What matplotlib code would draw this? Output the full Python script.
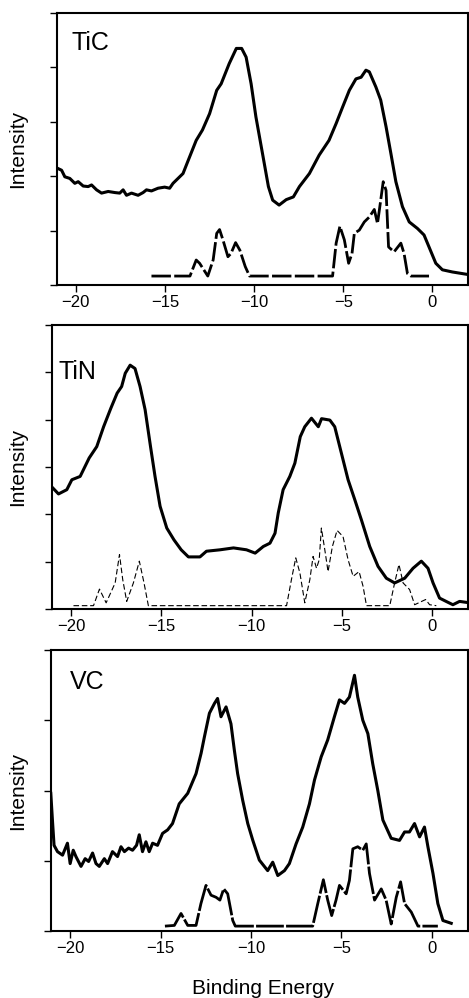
import numpy as np
import matplotlib
matplotlib.use('Agg')
import matplotlib.pyplot as plt

plt.rcParams['font.family'] = ['Liberation Sans', 'DejaVu Sans']

# TiC: measured spectrum (solid) and calculated DOS (dashed)
tic_e = [-20.99, -20.80, -20.62, -20.34, -20.06, -19.87, -19.59, -19.31, -19.12, -18.84, -18.56,
         -18.19, -17.81, -17.54, -17.35, -17.16, -16.88, -16.51, -16.23, -16.04, -15.76, -15.39,
         -15.02, -14.74, -14.55, -14.27, -13.99,
         -13.7, -13.25, -12.9, -12.5, -12.1, -11.85, -11.4, -11.0, -10.7, -10.45, -10.17, -9.9,
         -9.5, -9.2, -8.96, -8.6, -8.2, -7.8, -7.46, -6.9, -6.35, -5.8, -5.4, -5.04, -4.66,
         -4.29, -4.0, -3.73, -3.54, -3.17, -2.9, -2.6, -2.33, -2.05, -1.68, -1.3, -0.84, -0.47,
         -0.19, 0.19, 0.56, 1.12, 1.87]
tic_i = [2.14, 2.11, 1.99, 1.96, 1.87, 1.90, 1.82, 1.81, 1.84, 1.75, 1.69,
         1.72, 1.70, 1.69, 1.75, 1.65, 1.69, 1.65, 1.70, 1.75, 1.73, 1.78,
         1.80, 1.78, 1.87, 1.96, 2.05,
         2.29, 2.66, 2.85, 3.15, 3.58, 3.70, 4.07, 4.35, 4.35, 4.19, 3.70, 3.09,
         2.36, 1.81, 1.56, 1.47, 1.57, 1.62, 1.81, 2.05, 2.39, 2.66, 2.97, 3.27, 3.58,
         3.79, 3.82, 3.95, 3.92, 3.64, 3.40, 2.91, 2.42, 1.90, 1.44, 1.16, 1.04, 0.92,
         0.70, 0.40, 0.28, 0.24, 0.20]
tic_dos_e = [-15.76, -13.6, -13.25, -13.06, -12.6, -12.3, -12.1, -11.94, -11.75, -11.47, -11.3,
             -11.04, -10.8, -10.5, -10.26, -5.6, -5.4, -5.19, -4.94, -4.7, -4.51, -4.38, -4.1,
             -3.82, -3.54, -3.26, -3.08, -2.9, -2.76, -2.6, -2.46, -2.15, -1.77, -1.59, -1.4,
             -1.21, -0.19]
tic_dos = [0.165, 0.165, 0.46, 0.40, 0.165, 0.46, 0.95, 1.02, 0.83, 0.52, 0.58,
           0.78, 0.64, 0.34, 0.165, 0.165, 0.77, 1.08, 0.83, 0.40, 0.58, 0.95, 1.01,
           1.16, 1.25, 1.39, 1.13, 1.56, 1.90, 1.74, 0.70, 0.61, 0.77, 0.58, 0.21,
           0.165, 0.165]

# TiN
tin_e = [-21.0, -20.7, -20.24, -19.96, -19.5, -19.0, -18.58, -18.2, -17.8, -17.45, -17.2, -17.0,
         -16.73, -16.46, -16.18, -15.9, -15.6, -15.35, -15.07, -14.7, -14.3, -13.9, -13.5,
         -12.86, -12.5, -11.75, -11.0, -10.28, -9.8, -9.35, -8.98, -8.7, -8.52, -8.25, -7.88,
         -7.6, -7.3, -7.05, -6.68, -6.3, -6.12, -5.66, -5.39, -5.02, -4.65, -4.28, -3.91,
         -3.45, -2.99, -2.53, -2.07, -1.51, -1.05, -0.59, -0.22, 0.06, 0.42, 0.89, 1.16, 1.53, 1.9]
tin_i = [2.55, 2.43, 2.52, 2.73, 2.80, 3.19, 3.43, 3.85, 4.24, 4.56, 4.70, 4.98,
         5.15, 5.08, 4.70, 4.21, 3.43, 2.80, 2.17, 1.71, 1.46, 1.25, 1.10,
         1.10, 1.22, 1.25, 1.29, 1.25, 1.18, 1.32, 1.39, 1.60, 2.03, 2.52, 2.80,
         3.08, 3.64, 3.85, 4.03, 3.85, 4.02, 3.99, 3.85, 3.29, 2.73, 2.31, 1.88,
         1.32, 0.90, 0.65, 0.55, 0.65, 0.86, 1.01, 0.86, 0.55, 0.23, 0.14, 0.09, 0.16, 0.14]
tin_dos_e = [-19.87, -18.76, -18.43, -18.06, -17.56, -17.32, -17.14, -16.92, -16.55, -16.22,
             -15.96, -15.72, -8.06, -7.79, -7.55, -7.32, -7.05, -6.77, -6.59, -6.4, -6.25,
             -6.13, -5.94, -5.76, -5.52, -5.26, -4.93, -4.65, -4.37, -4.04, -3.82, -3.63,
             -2.34, -2.07, -1.83, -1.6, -1.24, -0.96, -0.35, -0.13, 0.24]
tin_dos = [0.07, 0.07, 0.42, 0.13, 0.55, 1.15, 0.62, 0.16, 0.55, 1.01,
           0.55, 0.07, 0.07, 0.62, 1.08, 0.76, 0.13, 0.62, 1.11, 0.86, 1.04,
           1.71, 1.25, 0.79, 1.32, 1.66, 1.53, 1.04, 0.69, 0.79, 0.48, 0.07,
           0.07, 0.55, 0.94, 0.55, 0.41, 0.09, 0.20, 0.09, 0.07]

# VC
vc_e = [-21.07, -20.98, -20.89, -20.70, -20.42, -20.15, -20.0, -19.83, -19.68, -19.40, -19.17,
        -18.98, -18.76, -18.57, -18.39, -18.11, -17.93, -17.66, -17.38, -17.19, -17.0, -16.77,
        -16.55, -16.33, -16.18, -16.0, -15.81, -15.63, -15.44, -15.17, -14.89, -14.61, -14.34,
        -13.97, -13.5, -13.04,
        -12.76, -12.58, -12.3, -12.02, -11.85, -11.66, -11.38, -11.11, -10.92, -10.74, -10.46,
        -10.18, -9.9, -9.54, -9.08, -8.8, -8.52, -8.15, -7.88, -7.51, -7.14, -6.77, -6.49,
        -6.12, -5.76, -5.39, -5.11, -4.83, -4.56, -4.28, -4.1, -3.82, -3.54, -3.27, -2.99,
        -2.71, -2.25, -1.79, -1.51, -1.24, -0.96, -0.68, -0.41, -0.22, 0.06, 0.33, 0.61, 1.07]
vc_i = [1.96, 1.58, 1.22, 1.13, 1.08, 1.25, 0.96, 1.15, 1.06, 0.92, 1.03,
        0.99, 1.11, 0.96, 0.92, 1.03, 0.96, 1.13, 1.06, 1.20, 1.13, 1.18,
        1.15, 1.22, 1.37, 1.13, 1.27, 1.13, 1.25, 1.22, 1.39, 1.44, 1.53,
        1.81, 1.96, 2.24,
        2.53, 2.76, 3.10, 3.24, 3.31, 3.05, 3.19, 2.95, 2.57, 2.24, 1.86,
        1.53, 1.29, 1.01, 0.86, 0.98, 0.79, 0.86, 0.96, 1.24, 1.48, 1.81, 2.15,
        2.48, 2.72, 3.05, 3.29, 3.24, 3.33, 3.64, 3.33, 3.00, 2.81, 2.38, 2.00,
        1.58, 1.32, 1.29, 1.41, 1.41, 1.53, 1.34, 1.48, 1.20, 0.82, 0.39, 0.15, 0.11]
vc_dos_e = [-14.76, -14.24, -13.87, -13.5, -13.04, -12.77, -12.49, -12.21, -11.93, -11.72,
            -11.51, -11.29, -11.01, -10.87, -6.59, -6.31, -6.0, -5.76, -5.54, -5.3, -5.11,
            -4.74, -4.56, -4.37, -4.1, -3.82, -3.63, -3.45, -3.17, -2.8, -2.53, -2.25,
            -1.97, -1.73, -1.51, -1.14, -0.77, 0.33]
vc_dos = [0.07, 0.08, 0.25, 0.08, 0.08, 0.39, 0.65, 0.51, 0.48, 0.44,
          0.60, 0.53, 0.15, 0.07, 0.07, 0.39, 0.73, 0.44, 0.22, 0.44, 0.65,
          0.53, 0.72, 1.17, 1.20, 1.15, 1.24, 0.82, 0.44, 0.60, 0.44, 0.10,
          0.48, 0.70, 0.39, 0.27, 0.07, 0.07]

panels = [
    ('TiC', tic_e, tic_i, tic_dos_e, tic_dos, 5, [0.1215, 0.7144, 0.8765, 0.2725],
     (0.036, 0.89), dict(lw=2.0, ls=(0, (7, 1.2)))),
    ('TiN', tin_e, tin_i, tin_dos_e, tin_dos, 6, [0.1109, 0.3898, 0.8871, 0.2846],
     (0.015, 0.834), dict(lw=0.8, ls=(0, (5, 2.5)))),
    ('VC', vc_e, vc_i, vc_dos_e, vc_dos, 4, [0.1087, 0.0671, 0.8893, 0.2816],
     (0.046, 0.886), dict(lw=2.0, ls=(0, (10, 0.8)))),
]

fig = plt.figure(figsize=(4.69, 9.98), dpi=100)

for name, e, inten, de, dos, ny, rect, lab, dstyle in panels:
    ax = fig.add_axes(rect)
    ax.plot(e, inten, color='black', lw=2.2)
    ax.plot(de, dos, color='black', **dstyle)
    ax.set_xlim(-21.06, 2.0)
    ax.set_ylim(0, ny)
    ax.set_xticks([-20, -15, -10, -5, 0])
    ax.set_yticks(np.arange(ny + 1))
    ax.set_yticklabels([])
    ax.tick_params(direction='out', length=5, width=1, labelsize=12, pad=2)
    for s in ax.spines.values():
        s.set_linewidth(1.5)
    ax.text(lab[0], lab[1], name, transform=ax.transAxes, fontsize=18, va='center', ha='left')
    yc = rect[1] + rect[3] / 2
    fig.text(18 / 469, yc, 'Intensity', rotation=90, fontsize=15, ha='center', va='center')

fig.text(263 / 469, 1 - 988 / 998, 'Binding Energy', fontsize=15, ha='center', va='center')

fig.savefig('out.png', dpi=100)
